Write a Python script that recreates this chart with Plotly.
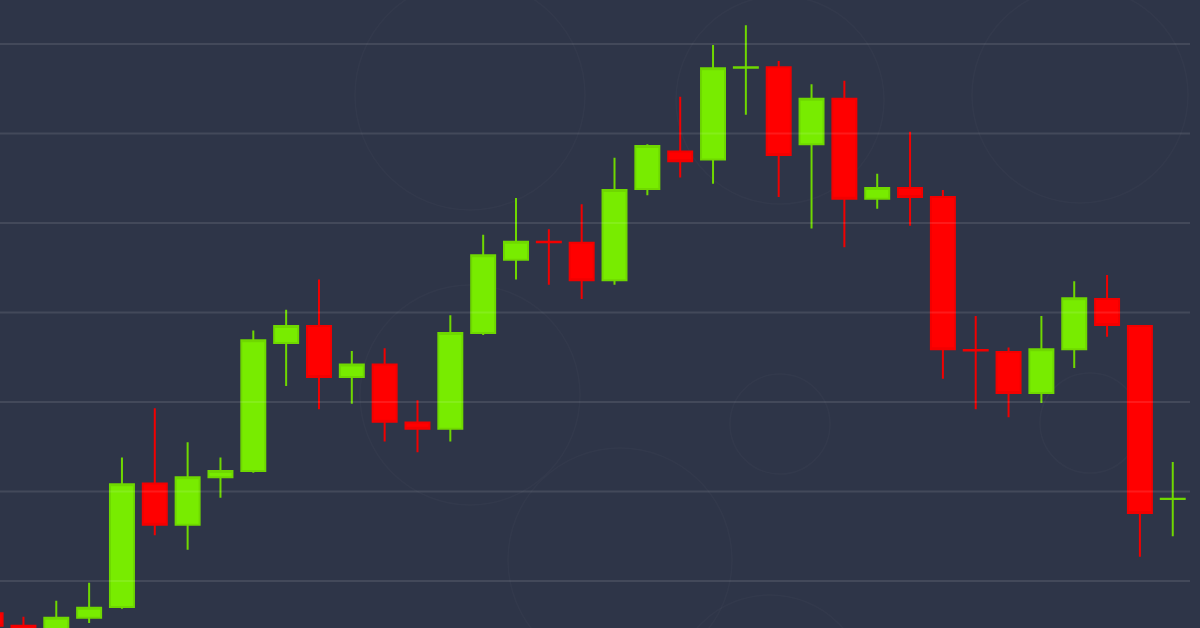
import plotly.graph_objects as go

# ---- data (price levels) ----
days = list(range(37))
opens = [5964, 5950, 5941, 5959, 5971, 6109, 6063, 6116, 6123, 6266,
         6285, 6228, 6242, 6177, 6170, 6277, 6359, 6379, 6378, 6336,
         6438, 6480, 6471, 6573.5, 6574, 6488, 6539, 6427, 6439, 6429,
         6258, 6256, 6210, 6259, 6315, 6285, 6091.5]
highs = [5968, 5960, 5978, 5998, 6138, 6193, 6155, 6138, 6280, 6303,
         6337, 6257, 6260, 6202, 6297, 6387, 6428, 6393, 6421, 6473,
         6488, 6541, 6599, 6621, 6581, 6555, 6559, 6455, 6502, 6437,
         6296, 6261, 6296, 6335, 6342, 6286, 6133]
lows = [5941, 5939, 5936, 5953, 5969, 6051, 6035, 6093, 6121, 6218,
        6192, 6198, 6156, 6144, 6156, 6275, 6337, 6331, 6315, 6331,
        6431, 6451, 6444, 6521, 6429, 6394, 6373, 6416, 6397, 6226,
        6192, 6183, 6199, 6238, 6273, 6027, 6050]
closes = [5950, 5944, 5959, 5970, 6108, 6063, 6116, 6123, 6269, 6285,
          6228, 6242, 6178, 6170, 6277, 6364, 6379, 6378.5, 6336, 6437,
          6486, 6469, 6573, 6574, 6476, 6539, 6427, 6439, 6429, 6259,
          6257.5, 6210, 6259, 6316, 6286, 6076, 6092]
grid_levels = [6000, 6100, 6200, 6300, 6400, 6500, 6600]

BG = "#2e3548"
GREEN = "#78ec00"
GREEN_LINE = "#6fd800"
RED = "#ff0000"
RED_LINE = "#f20000"

fig = go.Figure(go.Candlestick(
    x=days, open=opens, high=highs, low=lows, close=closes,
    increasing=dict(fillcolor=GREEN, line=dict(color=GREEN_LINE, width=2)),
    decreasing=dict(fillcolor=RED, line=dict(color=RED_LINE, width=2)),
    whiskerwidth=0,
    hoverinfo="skip",
))

# faint decorative circles in the background (pixel positions)
W, H = 1200, 628
circles = [(470, 95, 115), (780, 100, 104), (1080, 95, 108), (780, 424, 50),
           (1090, 423, 50), (770, 692, 97), (620, 560, 112), (470, 395, 110)]
shapes = []
for cx, cy, r in circles:
    shapes.append(dict(type="circle", xref="paper", yref="paper",
                       x0=(cx - r) / W, x1=(cx + r) / W,
                       y0=1 - (cy + r) / H, y1=1 - (cy - r) / H,
                       line=dict(color="rgba(255,255,255,0.022)", width=1.5),
                       layer="below"))
for lv in grid_levels:
    shapes.append(dict(type="line", xref="paper", yref="y",
                       x0=0, x1=1190 / W, y0=lv, y1=lv,
                       line=dict(color="rgba(255,255,255,0.10)", width=2),
                       layer="above"))

fig.update_layout(
    width=W, height=H,
    margin=dict(l=0, r=0, t=0, b=0),
    paper_bgcolor=BG, plot_bgcolor=BG,
    showlegend=False,
    boxgap=0.27, boxgroupgap=0,
    shapes=shapes,
    xaxis=dict(range=[0.286, 36.83], showgrid=False, zeroline=False,
               showticklabels=False, rangeslider=dict(visible=False),
               fixedrange=True),
    yaxis=dict(range=[5947.5, 6649.2], showgrid=False, zeroline=False,
               showticklabels=False, fixedrange=True),
)

fig.write_html(
    "out.html",
    config={"displayModeBar": False},
    post_script="document.body.style.margin='0';document.body.style.background='" + BG + "';",
)
